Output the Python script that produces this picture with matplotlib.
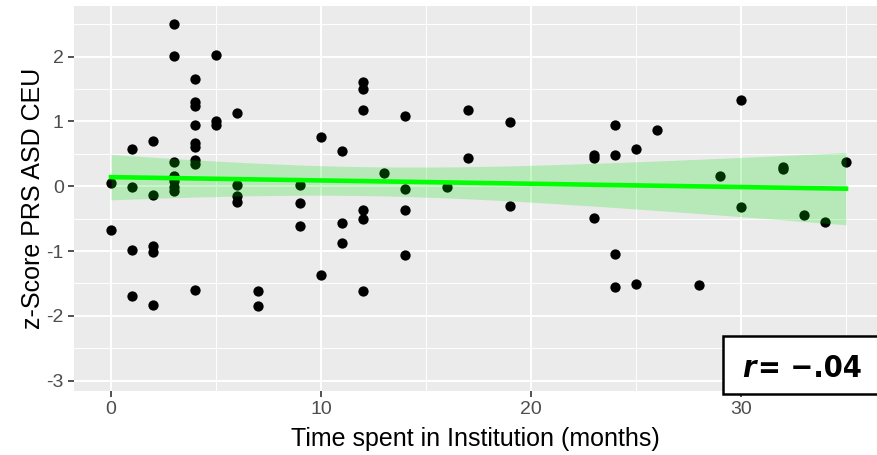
import numpy as np
import matplotlib
matplotlib.use('Agg')
import matplotlib.pyplot as plt
from matplotlib.ticker import MultipleLocator
from matplotlib import font_manager

# months in institution and z-score
months = [0, 0,
          1, 1, 1, 1,
          2, 2, 2, 2, 2,
          3, 3, 3, 3, 3, 3, 3,
          4, 4, 4, 4, 4, 4, 4, 4, 4,
          5, 5, 5,
          6, 6, 6, 6,
          7, 7,
          9, 9, 9,
          10, 10,
          11, 11, 11,
          12, 12, 12, 12, 12, 12,
          13,
          14, 14, 14, 14,
          16,
          17, 17,
          19, 19,
          23, 23, 23,
          24, 24, 24, 24,
          25, 25,
          26, 28, 29,
          30, 30,
          32, 32,
          33, 34, 35]
zscore = [0.05, -0.67,
          0.58, -0.02, -0.99, -1.70,
          0.69, -0.14, -0.92, -1.02, -1.84,
          2.50, 2.01, 0.38, 0.15, 0.08, -0.01, -0.08,
          1.66, 1.30, 1.23, 0.95, 0.67, 0.61, 0.40, 0.34, -1.60,
          2.03, 1.01, 0.94,
          1.13, 0.02, -0.15, -0.24,
          -1.62, -1.85,
          0.02, -0.26, -0.61,
          0.76, -1.37,
          0.55, -0.57, -0.88,
          1.60, 1.50, 1.17, -0.37, -0.50, -1.62,
          0.20,
          1.08, -0.05, -0.36, -1.06,
          -0.01,
          1.17, 0.44,
          0.99, -0.30,
          0.48, 0.44, -0.49,
          0.94, 0.48, -1.05, -1.56,
          0.58, -1.51,
          0.86, -1.53, 0.16,
          1.33, -0.32,
          0.30, 0.26,
          -0.44, -0.55, 0.37]
r_label = '−.04'

x = np.array(months, dtype=float)
y = np.array(zscore)

# lm fit with 95% band, like geom_smooth(method = 'lm')
slope, icept = np.polyfit(x, y, 1)
n = len(x)
resid = y - (icept + slope * x)
s = np.sqrt(np.sum(resid ** 2) / (n - 2))
xs = np.linspace(x.min(), x.max(), 100)
fit = icept + slope * xs
se = s * np.sqrt(1.0 / n + (xs - x.mean()) ** 2 / np.sum((x - x.mean()) ** 2))
t95 = 1.99

plt.rcParams['font.family'] = ['Liberation Sans', 'DejaVu Sans']
plt.rcParams['axes.unicode_minus'] = False
fig = plt.figure(figsize=(8.77, 4.55), dpi=100)
W, H = 877.0, 455.0
ax = fig.add_axes([74.25 / W, 1 - 391 / H, (877 - 74.25) / W, (391 - 6) / H])
ax.set_facecolor('#EBEBEB')
for sp in ax.spines.values():
    sp.set_visible(False)

ax.set_xlim(-1.75, (877 - 111) / 21.0)
ax.set_ylim(-3.16, 2.78)
ax.xaxis.set_major_locator(MultipleLocator(10))
ax.xaxis.set_minor_locator(MultipleLocator(5))
ax.yaxis.set_major_locator(MultipleLocator(1))
ax.yaxis.set_minor_locator(MultipleLocator(0.5))
ax.grid(which='major', color='white', linewidth=1.4)
ax.grid(which='minor', color='white', linewidth=0.7)
ax.set_axisbelow(True)
ax.tick_params(which='major', length=4.5, width=1.2, color='#333333',
               labelcolor='#4D4D4D', labelsize=14, pad=3)
ax.tick_params(which='minor', length=0)

ax.scatter(x, y, s=55, color='black', zorder=3, linewidths=0)
ax.fill_between(xs, fit - t95 * se, fit + t95 * se, color='#00E000', alpha=0.22,
                linewidth=0, zorder=4)
ax.plot(xs, fit, color='#00FF00', linewidth=3.3, zorder=5)

ax.set_xlabel('Time spent in Institution (months)', fontsize=18, labelpad=6)
ax.set_ylabel('z-Score PRS ASD CEU', fontsize=18, labelpad=1)

# correlation box
box = plt.Rectangle((722.7 / W, 1 - 394 / H), 0.2, (394 - 335.7) / H,
                    transform=fig.transFigure, facecolor='white',
                    edgecolor='black', linewidth=1.8, zorder=10)
fig.patches.append(box)
narrow = font_manager.FontProperties(family='DejaVu Sans', stretch='condensed',
                                     weight='bold', size=22)
narrow_it = narrow.copy()
narrow_it.set_style('italic')
fig.text(742 / W, 1 - 377 / H, 'r', fontproperties=narrow_it, zorder=11)
fig.text(758 / W, 1 - 377 / H, '= ' + r_label, fontproperties=narrow, zorder=11)

fig.savefig('out.png', dpi=100)
